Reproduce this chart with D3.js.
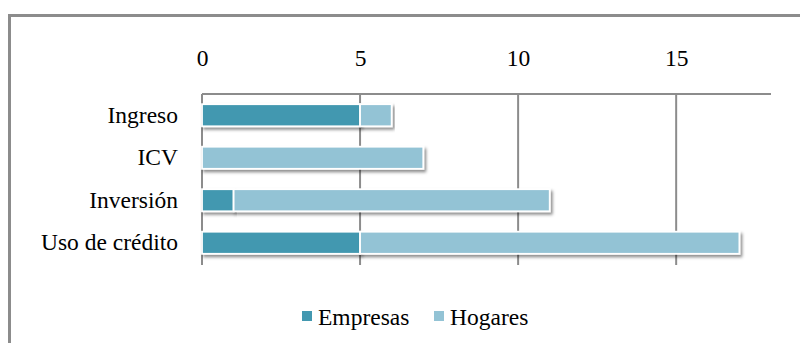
<!DOCTYPE html>
<html>
<head>
<meta charset="utf-8">
<script src="https://cdn.jsdelivr.net/npm/d3@7"></script>
<style>
  html, body { margin: 0; padding: 0; background: #fff; }
  svg { display: block; }
  text { font-family: "Liberation Serif", "Times New Roman", serif; fill: #000; }
</style>
</head>
<body>
<svg id="chart" width="800" height="343"></svg>
<script>
// Categories (top to bottom) and the two stacked series
const categories = ["Ingreso", "ICV", "Inversión", "Uso de crédito"];
const empresas = [5, 0, 1, 5];
const hogares = [1, 7, 10, 12];
const seriesNames = ["Empresas", "Hogares"];
const seriesColors = ["#4398b0", "#93c3d5"];
const tickValues = [0, 5, 10, 15];

const FONT = "'Liberation Serif', 'Times New Roman', serif";
const FS = 23.5;

const svg = d3.select("#chart");
const W = 800, H = 343;
const margin = { top: 94, left: 202, right: 29, bottom: 79 };
const innerW = W - margin.left - margin.right;
const innerH = H - margin.top - margin.bottom;

// Outer chart frame
svg.append("rect")
  .attr("x", 9.5).attr("y", 15.5)
  .attr("width", W).attr("height", H)
  .attr("fill", "none")
  .attr("stroke", "#8c8c8c")
  .attr("stroke-width", 3);

// Drop shadow for bars
const defs = svg.append("defs");
const f = defs.append("filter").attr("id", "shadow")
  .attr("x", "-5%").attr("y", "-30%").attr("width", "115%").attr("height", "180%");
f.append("feDropShadow")
  .attr("dx", 2).attr("dy", 2.5).attr("stdDeviation", 1.6)
  .attr("flood-color", "#000").attr("flood-opacity", 0.45);

const x = d3.scaleLinear().domain([0, 18]).range([0, innerW]);
const y = d3.scaleBand().domain(categories).range([0, innerH]).paddingInner(0.48).paddingOuter(0.24);

const g = svg.append("g").attr("transform", `translate(${margin.left},${margin.top})`);

// Gridlines at tick positions
g.selectAll("line.grid").data(tickValues).join("line")
  .attr("class", "grid")
  .attr("x1", d => x(d)).attr("x2", d => x(d))
  .attr("y1", 0).attr("y2", innerH + 1)
  .attr("stroke", "#8c8c8c").attr("stroke-width", 2);

// Top axis line and labels
g.append("line")
  .attr("x1", 0).attr("x2", innerW)
  .attr("y1", 0).attr("y2", 0)
  .attr("stroke", "#8c8c8c").attr("stroke-width", 2);

const xAxis = d3.axisTop(x).tickValues(tickValues).tickSize(0).tickPadding(0);
const ax = g.append("g").attr("transform", "translate(0,-28)").call(xAxis);
ax.attr("font-family", FONT).attr("font-size", FS);
ax.select(".domain").remove();
ax.selectAll("text").attr("fill", "#000");

// Category labels
const yAxis = d3.axisLeft(y).tickSize(0).tickPadding(24);
const ay = g.append("g").call(yAxis);
ay.attr("font-family", FONT).attr("font-size", FS);
ay.select(".domain").remove();
ay.selectAll("text").attr("fill", "#000");

// Stacked bars
const rows = categories.map((c, i) => ({ cat: c, Empresas: empresas[i], Hogares: hogares[i] }));
const stacked = d3.stack().keys(seriesNames)(rows);

stacked.forEach((layer, li) => {
  g.append("g").selectAll("rect").data(layer.filter(d => d[1] - d[0] > 0)).join("rect")
    .attr("x", d => x(d[0]))
    .attr("y", d => y(d.data.cat))
    .attr("width", d => x(d[1]) - x(d[0]))
    .attr("height", y.bandwidth())
    .attr("fill", seriesColors[li])
    .attr("stroke", "#fff")
    .attr("stroke-width", 1.8)
    .attr("filter", "url(#shadow)");
});

// Legend
const legend = svg.append("g").attr("transform", "translate(302,311)");
const items = [{ name: "Empresas", dx: 0 }, { name: "Hogares", dx: 132 }];
items.forEach((it, i) => {
  const lg = legend.append("g").attr("transform", `translate(${it.dx},0)`);
  lg.append("rect").attr("width", 10).attr("height", 10).attr("fill", seriesColors[i]);
  lg.append("text").attr("x", 16).attr("y", 14)
    .attr("font-family", FONT).attr("font-size", FS).text(it.name);
});
</script>
</body>
</html>
